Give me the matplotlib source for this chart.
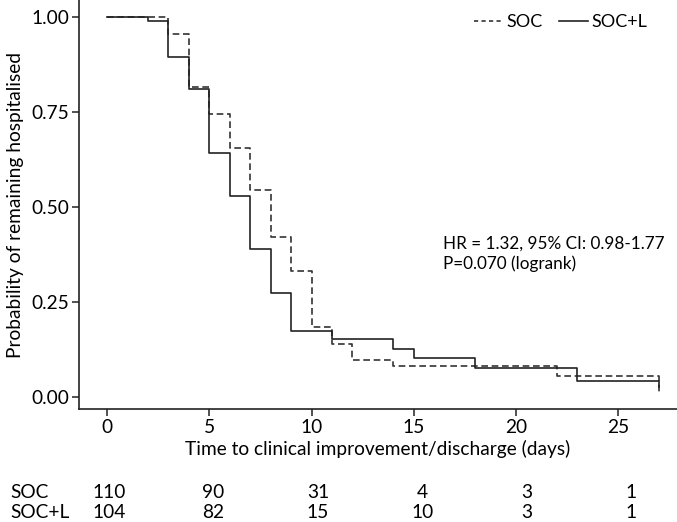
import matplotlib
matplotlib.use("Agg")
import matplotlib.pyplot as plt
from matplotlib.lines import Line2D

plt.rcParams['font.family'] = ['Lato', 'DejaVu Sans']

# Kaplan-Meier step data
soc_t = [0, 3, 4, 5, 6, 7, 8, 9, 10, 11, 12, 14, 22, 27]
soc_s = [1.0, 0.956, 0.815, 0.746, 0.656, 0.545, 0.422, 0.332, 0.185, 0.14, 0.097, 0.082, 0.054, 0.005]
socl_t = [0, 2, 3, 4, 5, 6, 7, 8, 9, 11, 14, 15, 18, 23, 27]
socl_s = [1.0, 0.989, 0.894, 0.81, 0.642, 0.529, 0.389, 0.274, 0.175, 0.153, 0.127, 0.102, 0.077, 0.042, 0.025]

risk_times = [0, 5, 10, 15, 20, 25]
risk_soc = [110, 90, 31, 4, 3, 1]
risk_socl = [104, 82, 15, 10, 3, 1]

yticks = [0.0, 0.25, 0.5, 0.75, 1.0]
xticks = [0, 5, 10, 15, 20, 25]

FS = 13.8

fig = plt.figure(figsize=(6.77, 5.22), dpi=100)
ax = fig.add_axes([79/677, 1 - 409/522, 1 - 79/677, 409/522])

ax.step(soc_t, soc_s, where='post', color='#333333', lw=1.2, ls=(0, (4, 2.2)), label='SOC')
ax.step(socl_t, socl_s, where='post', color='#222222', lw=1.2, label='SOC+L')

ax.set_xlim(-1.37, 27.87)
ax.set_ylim(-0.0316, 1.045)
ax.set_xticks(xticks)
ax.set_yticks(yticks)
ax.set_yticklabels([f"{v:.2f}" for v in yticks])
for s in ['top', 'right']:
    ax.spines[s].set_visible(False)
for s in ['left', 'bottom']:
    ax.spines[s].set_linewidth(1.2)
    ax.spines[s].set_color('#222222')
ax.tick_params(axis='both', direction='out', length=5, width=1.1, color='#222222',
               labelsize=FS, pad=2)

ax.set_xlabel('Time to clinical improvement/discharge (days)', fontsize=FS, labelpad=3)
ax.set_ylabel('Probability of remaining hospitalised', fontsize=FS, labelpad=5)

handles = [Line2D([], [], color='#333333', lw=1.2, ls=(0, (2.5, 2))),
           Line2D([], [], color='#222222', lw=1.2)]
ax.legend(handles, ['SOC', 'SOC+L'], ncol=2, frameon=False, loc='upper right',
          bbox_to_anchor=(0.978, 1.005), fontsize=13, handlelength=1.6,
          handletextpad=0.2, columnspacing=0.9)

fig.text(443/677, 1 - 254/522, 'HR = 1.32, 95% CI: 0.98-1.77\nP=0.070 (logrank)',
         fontsize=12.3, va='center', ha='left', linespacing=1.25)

# Number at risk table
for row_y, label, vals in [(493, 'SOC', risk_soc), (512, 'SOC+L', risk_socl)]:
    fig.text(10/677, 1 - row_y/522, label, fontsize=FS, va='center', ha='left')
    for t, v in zip(risk_times, vals):
        xd = t * 1.021 + 0.1
        xf = fig.transFigure.inverted().transform(ax.transData.transform((xd, 0)))[0]
        fig.text(xf, 1 - row_y/522, str(v), fontsize=FS, va='center', ha='center')

fig.savefig('out.png', dpi=100)
